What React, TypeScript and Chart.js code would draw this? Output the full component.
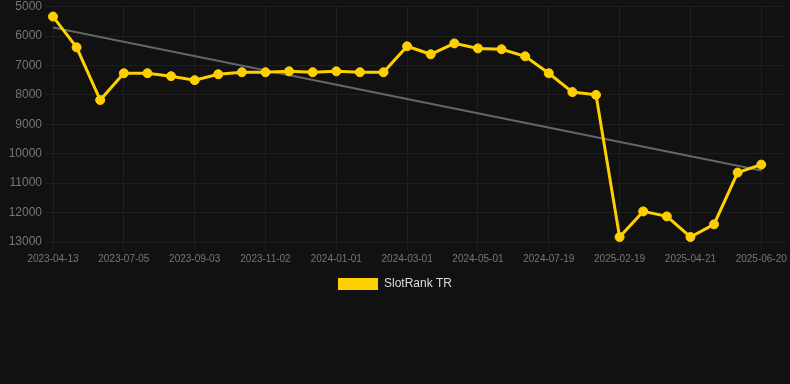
import React, { useEffect, useRef } from "react";
import { Chart, registerables } from "chart.js";

Chart.register(...registerables);

// Point indices (one per observation)
const pointIndex: number[] = Array.from({ length: 31 }, (_, i) => i);

// Visible x tick labels (every third observation)
const tickLabels: Record<number, string> = {
  0: "2023-04-13",
  3: "2023-07-05",
  6: "2023-09-03",
  9: "2023-11-02",
  12: "2024-01-01",
  15: "2024-03-01",
  18: "2024-05-01",
  21: "2024-07-19",
  24: "2025-02-19",
  27: "2025-04-21",
  30: "2025-06-20",
};

const rankValues: number[] = [
  5340, 6385, 8175, 7265, 7265, 7365, 7500, 7300, 7230, 7230, 7200,
  7230, 7200, 7230, 7230, 6350, 6620, 6250, 6420, 6450, 6690, 7265,
  7905, 8000, 12830, 11960, 12130, 12830, 12400, 10640, 10370,
];

const trendStart = 5710;
const trendEnd = 10570;

const seriesLabel = "SlotRank TR";

export default function App() {
  const ref = useRef<HTMLCanvasElement | null>(null);

  useEffect(() => {
    if (!ref.current) return;
    const chart = new Chart(ref.current, {
      type: "line",
      data: {
        datasets: [
          {
            label: seriesLabel,
            data: pointIndex.map((i) => ({ x: i, y: rankValues[i] })),
            borderColor: "#FFD000",
            backgroundColor: "#FFD000",
            borderWidth: 3,
            pointRadius: 4.5,
            pointBorderWidth: 1,
            pointBackgroundColor: "#FFD000",
            pointBorderColor: "#FFD000",
            tension: 0,
            clip: false as any,
            order: 1,
          },
          {
            label: "trend",
            data: [
              { x: pointIndex[0], y: trendStart },
              { x: pointIndex[pointIndex.length - 1], y: trendEnd },
            ],
            borderColor: "#666666",
            backgroundColor: "#666666",
            borderWidth: 2,
            pointRadius: 0,
            tension: 0,
            order: 2,
          },
        ],
      },
      options: {
        animation: false,
        responsive: false,
        maintainAspectRatio: false,
        layout: { padding: 0 },
        scales: {
          x: {
            type: "linear",
            min: 0,
            max: 30.97,
            ticks: {
              stepSize: 3,
              includeBounds: false,
              autoSkip: false,
              maxRotation: 0,
              color: "#777777",
              font: { family: "Liberation Sans, Arial, sans-serif", size: 10 },
              callback: (v: any) => tickLabels[Number(v)] ?? "",
            },
            grid: { color: "#1e1e1e", tickColor: "#1e1e1e" },
            border: { color: "#1e1e1e" },
          },
          y: {
            reverse: true,
            min: 5000,
            max: 13000,
            afterFit: (s: any) => {
              s.width = 53;
            },
            ticks: {
              stepSize: 1000,
              color: "#777777",
              font: { family: "Liberation Sans, Arial, sans-serif", size: 12, lineHeight: 0.6 },
              callback: (v: any) => String(v),
            },
            grid: { color: "#1e1e1e", tickColor: "#1e1e1e" },
            border: { color: "#1e1e1e" },
          },
        },
        plugins: {
          legend: {
            position: "bottom",
            labels: {
              color: "#dddddd",
              font: { family: "Liberation Sans, Arial, sans-serif", size: 12 },
              boxWidth: 40,
              boxHeight: 12,
              filter: (item: any) => item.text === seriesLabel,
              generateLabels: (c: any) =>
                Chart.defaults.plugins.legend.labels
                  .generateLabels(c)
                  .map((l: any) => ({ ...l, lineWidth: 0 })),
            },
          },
          tooltip: { enabled: false },
        },
      },
    });
    return () => chart.destroy();
  }, []);

  return (
    <div
      style={{
        position: "fixed",
        left: 0,
        top: 0,
        width: 790,
        height: 384,
        background: "#111111",
      }}
    >
      <canvas ref={ref} width={790} height={300} style={{ display: "block" }} />
    </div>
  );
}
